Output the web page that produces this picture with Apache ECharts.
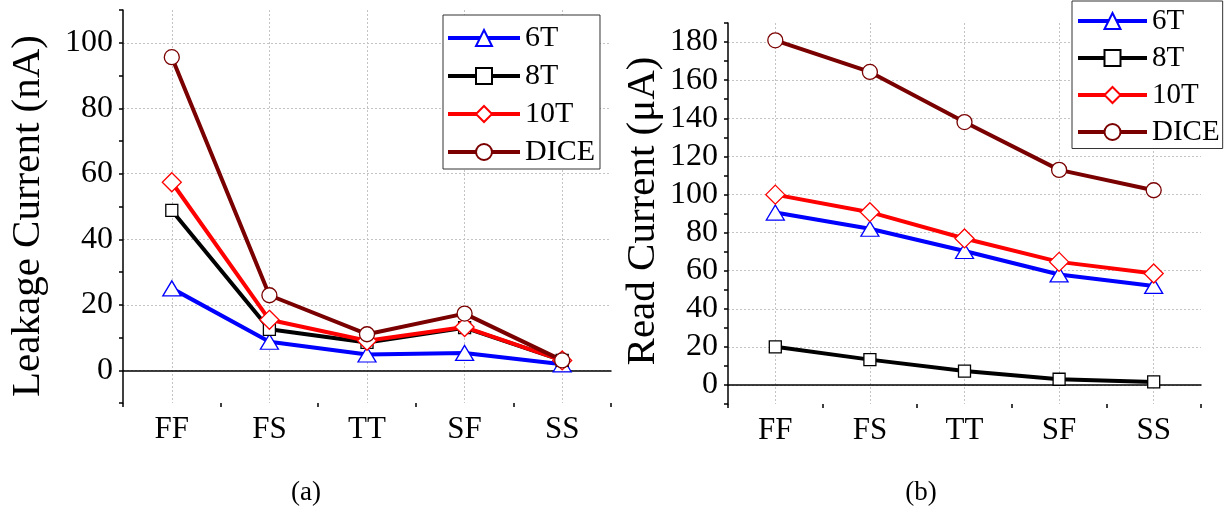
<!DOCTYPE html>
<html>
<head>
<meta charset="utf-8">
<script src="https://cdn.jsdelivr.net/npm/echarts@6/dist/echarts.min.js"></script>
<style>
html, body { margin: 0; padding: 0; background: #fff; }
#chart { width: 1226px; height: 510px; }
</style>
</head>
<body>
<div id="chart"></div>
<script>
// Process corners on the x axis
const corners = ['FF', 'FS', 'TT', 'SF', 'SS'];
const cellNames = ['6T', '8T', '10T', 'DICE'];

// (a) leakage current, nA
const leak6T   = [25.0, 8.7, 4.8, 5.3, 1.8];
const leak8T   = [48.8, 12.5, 8.5, 13.0, 3.0];
const leak10T  = [57.4, 15.4, 9.0, 13.2, 3.0];
const leakDICE = [95.6, 22.9, 11.0, 17.3, 3.0];

// (b) read current, uA
const read6T   = [90.5, 82.0, 70.3, 58.0, 52.0];
const read8T   = [20.0, 13.3, 7.3, 3.0, 1.6];
const read10T  = [99.9, 90.7, 76.9, 64.6, 58.5];
const readDICE = [180.9, 164.3, 138.0, 112.9, 102.2];

// labelled ticks on each value axis
const leakTicks = [0, 20, 40, 60, 80, 100];
const readTicks = [0, 20, 40, 60, 80, 100, 120, 140, 160, 180];

const FONT = 'Liberation Serif';
const GRID_COLOR = '#c4c4c4';

const cellStyle = {
  '6T':   { color: '#0000ff', symbol: 'triangle', size: [18, 15] },
  '8T':   { color: '#000000', symbol: 'rect',     size: 12 },
  '10T':  { color: '#ff0000', symbol: 'diamond',  size: 19 },
  'DICE': { color: '#7a0000', symbol: 'circle',   size: 15 }
};

function makeSeries(name, values, axisIndex) {
  const st = cellStyle[name];
  return {
    name: name,
    type: 'line',
    xAxisIndex: axisIndex * 2,
    yAxisIndex: axisIndex,
    data: values,
    symbol: st.symbol,
    symbolSize: st.size,
    showAllSymbol: true,
    lineStyle: { color: st.color, width: 4 },
    itemStyle: { color: '#ffffff', borderColor: st.color, borderWidth: 1.3 },
    emphasis: { disabled: true },
    animation: false
  };
}

function categoryAxes(gridIndex) {
  return [
    {
      type: 'category', gridIndex: gridIndex, data: corners, boundaryGap: true,
      axisLine: { lineStyle: { color: '#000', width: 1.5 } },
      axisTick: { alignWithLabel: true, length: 6, lineStyle: { color: '#000', width: 1.5 } },
      axisLabel: { fontFamily: FONT, fontSize: 31, color: '#000', margin: 11 },
      splitLine: { show: true, alignWithLabel: true, interval: 0,
                   lineStyle: { color: GRID_COLOR, type: [2, 2], width: 1 } }
    },
    {
      // boundary ticks between corners
      type: 'category', gridIndex: gridIndex, data: corners, boundaryGap: true,
      position: 'bottom',
      axisLine: { show: false },
      axisTick: { show: true, length: 4, interval: 0, lineStyle: { color: '#000', width: 1.5 } },
      axisLabel: { show: false },
      splitLine: { show: false }
    }
  ];
}

function valueAxis(gridIndex, max, ticks) {
  return {
    type: 'value', gridIndex: gridIndex, min: -10, max: max, interval: 10,
    axisLine: { show: true, lineStyle: { color: '#000', width: 1.5 } },
    axisTick: { show: true, length: 4, lineStyle: { color: '#000', width: 1.5 } },
    axisLabel: {
      fontFamily: FONT, fontSize: 32, color: '#000', margin: 10,
      showMinLabel: true, showMaxLabel: true,
      formatter: function (v) { return ticks.indexOf(v) >= 0 ? String(v) : ''; }
    },
    // only the labelled values get a grid line
    splitLine: { show: true, lineStyle: { color: ['transparent', GRID_COLOR], type: [2, 2], width: 1 } }
  };
}

function legend(left, top, padding, itemWidth, fontSize) {
  return {
    data: cellNames, orient: 'vertical', left: left, top: top,
    padding: padding, itemGap: 8, itemWidth: itemWidth, itemHeight: 20,
    borderColor: '#333', borderWidth: 1, backgroundColor: '#fff',
    selectedMode: false,
    lineStyle: { width: 4 },
    textStyle: { fontFamily: FONT, fontSize: fontSize, lineHeight: fontSize, color: '#000' }
  };
}

const chart = echarts.init(document.getElementById('chart'), null, { renderer: 'canvas' });

chart.setOption({
  animation: false,
  backgroundColor: '#fff',
  grid: [
    { left: 123, top: 10, width: 488, height: 393 },
    { left: 728, top: 23, width: 473, height: 381 }
  ],
  xAxis: categoryAxes(0).concat(categoryAxes(1)),
  yAxis: [valueAxis(0, 110, leakTicks), valueAxis(1, 190, readTicks)],
  legend: [
    legend(443, 15, [8, 5, 2, 3], 72, 30),
    legend(1072, 1, [5.5, 3, 2, 4], 69, 29)
  ],
  graphic: [
    { type: 'text', x: 28, y: 216, rotation: Math.PI / 2,
      style: { text: 'Leakage Current (nA)', font: '41px "' + FONT + '"', fill: '#000', align: 'center', verticalAlign: 'middle' } },
    { type: 'text', x: 643, y: 211, rotation: Math.PI / 2,
      style: { text: 'Read Current (\u03bcA)', font: '41px "' + FONT + '"', fill: '#000', align: 'center', verticalAlign: 'middle' } },
    { type: 'text', x: 306, y: 493,
      style: { text: '(a)', font: '27px "' + FONT + '"', fill: '#000', align: 'center', verticalAlign: 'middle' } },
    { type: 'text', x: 921, y: 493,
      style: { text: '(b)', font: '27px "' + FONT + '"', fill: '#000', align: 'center', verticalAlign: 'middle' } }
  ],
  series: [
    makeSeries('6T', leak6T, 0),
    makeSeries('8T', leak8T, 0),
    makeSeries('10T', leak10T, 0),
    makeSeries('DICE', leakDICE, 0),
    makeSeries('6T', read6T, 1),
    makeSeries('8T', read8T, 1),
    makeSeries('10T', read10T, 1),
    makeSeries('DICE', readDICE, 1)
  ]
});
</script>
</body>
</html>
